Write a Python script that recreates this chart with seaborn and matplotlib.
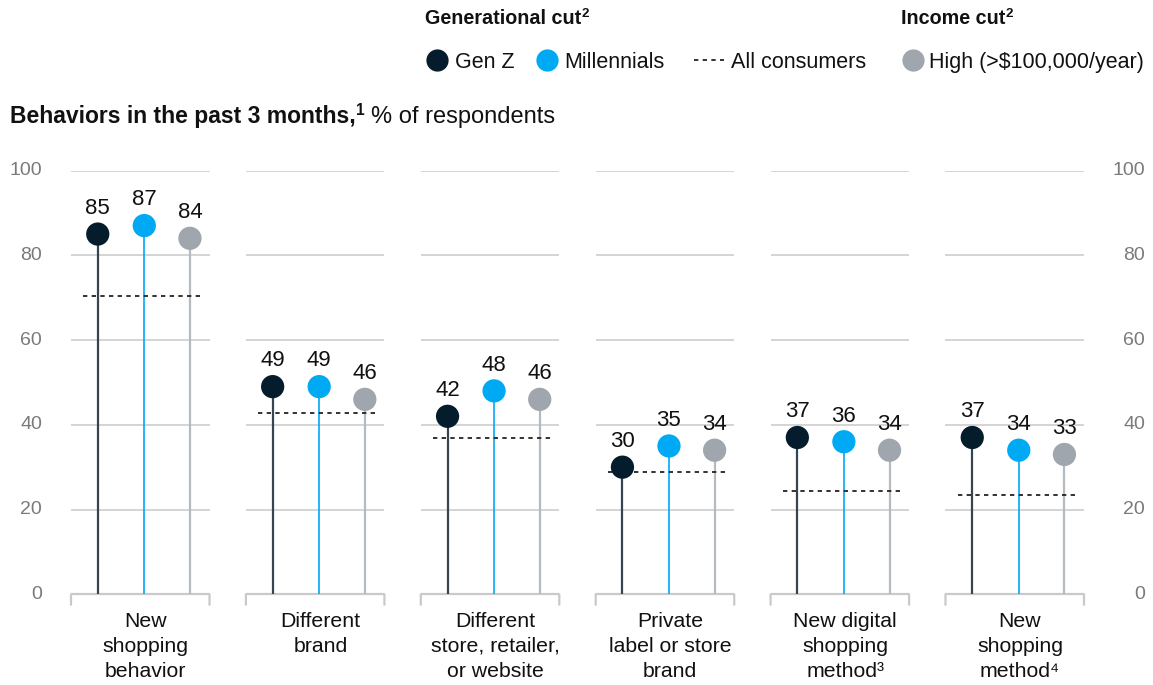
import matplotlib
matplotlib.use("Agg")
import matplotlib.pyplot as plt
import seaborn as sns
import pandas as pd
from matplotlib.lines import Line2D
from matplotlib.transforms import blended_transform_factory

# ---- data -------------------------------------------------------------
categories = [
    "New\nshopping\nbehavior",
    "Different\nbrand",
    "Different\nstore, retailer,\nor website",
    "Private\nlabel or store\nbrand",
    "New digital\nshopping\nmethod\u00b3",
    "New\nshopping\nmethod\u2074",
]
gen_z = [85, 49, 42, 30, 37, 37]
millennials = [87, 49, 48, 35, 36, 34]
high_income = [84, 46, 46, 34, 34, 33]
all_consumers = [70.4, 42.8, 36.8, 28.8, 24.3, 23.4]
y_ticks = [0, 20, 40, 60, 80, 100]
series_names = ["Gen Z", "Millennials", "High (>$100,000/year)"]

# ---- style ------------------------------------------------------------
sns.set_theme(style="white")
FONT = ["Liberation Sans", "DejaVu Sans"]
plt.rcParams["font.family"] = FONT

DOT = {"Gen Z": "#051c2c", "Millennials": "#00a9f4", "High (>$100,000/year)": "#9fa6ad"}
STEM = {"Gen Z": "#36454f", "Millennials": "#00a9f4", "High (>$100,000/year)": "#b4babf"}
OFFSET = {"Gen Z": -0.243, "Millennials": 0.023, "High (>$100,000/year)": 0.284}
HALF = 0.396
GRID = "#c9c9c9"
INK = "#111111"
TICK = "#7a7a7a"

W, H = 1153, 685
fig = plt.figure(figsize=(W / 100, H / 100), dpi=100)


def fx(px):
    return px / W


def fy(py):
    return 1 - py / H


def text_with_sup(xpx, ypx, main, sup, size, weight="normal", tail=None, tail_size=None):
    """Draw text followed by a raised superscript, optionally followed by more text."""
    t = fig.text(fx(xpx), fy(ypx), main, fontsize=size, fontweight=weight,
                 color=INK, ha="left", va="baseline")
    s = plt.annotate(sup, xy=(1, 0), xycoords=t, xytext=(0, size * 0.42),
                     textcoords="offset points", fontsize=size * 0.68,
                     fontweight=weight, color=INK, ha="left", va="bottom")
    if tail:
        plt.annotate(tail, xy=(1, 0), xycoords=(s, t), xytext=(4.5, 0),
                     textcoords="offset points", fontsize=tail_size or size,
                     color=INK, ha="left", va="bottom")
    return t, s


# axes: y=0 at 594 px, y=100 at 170.5 px; groups span 71..1084 px
ax = fig.add_axes([fx(71), fy(594.3), fx(1084) - fx(71), fy(170.5) - fy(594.3)])

# long-form table for seaborn
rows = []
for name, vals in zip(series_names, [gen_z, millennials, high_income]):
    for i, v in enumerate(vals):
        rows.append({"x": i + OFFSET[name], "value": v, "series": name, "group": i})
df = pd.DataFrame(rows)

# per-group grid segments and bracket at zero
for i in range(len(categories)):
    for t in y_ticks[1:]:
        ax.hlines(t, i - HALF, i + HALF, color=GRID, lw=1.1, zorder=0)
    ax.hlines(0, i - HALF, i + HALF, color=GRID, lw=1.6, zorder=1, clip_on=False)
    for edge in (i - HALF, i + HALF):
        ax.annotate("", xy=(edge, 0), xytext=(0, -7.5), textcoords="offset points",
                    arrowprops=dict(arrowstyle="-", color=GRID, lw=1.6,
                                    shrinkA=0, shrinkB=0), annotation_clip=False)

# stems
for name in series_names:
    sub = df[df.series == name]
    ax.vlines(sub.x, 0, sub.value, color=STEM[name],
              lw=1.6 if name != "Millennials" else 1.2, zorder=2)

# all-consumer reference dashes
for i, v in enumerate(all_consumers):
    ax.plot([i - 0.327, i + 0.351], [v, v], color="#222222", lw=1.3,
            dashes=(2.4, 2.4), zorder=2.5)

# dots
sns.scatterplot(data=df, x="x", y="value", hue="series", palette=DOT,
                hue_order=series_names, s=280, linewidth=0, legend=False,
                zorder=3, ax=ax, clip_on=False)
ax.set_xlim(-HALF, len(categories) - 1 + HALF)
ax.set_ylim(0, 100)
ax.axis("off")

# value labels
for _, r in df.iterrows():
    ax.annotate(f"{r.value:g}", xy=(r.x, r.value), xytext=(0, 14.5),
                textcoords="offset points", ha="center", va="baseline",
                fontsize=16, color=INK, annotation_clip=False)

# y tick labels on both sides
tr = blended_transform_factory(fig.transFigure, ax.transData)
for t in y_ticks:
    for xpx in (42, 1145):
        fig.text(fx(xpx), t, str(t), transform=tr, ha="right", va="center",
                 fontsize=14, color=TICK)

# category labels
lab_tr = blended_transform_factory(ax.transData, fig.transFigure)
for i, lab in enumerate(categories):
    ax.text(i + 0.03, fy(612), lab, transform=lab_tr, ha="center", va="top",
            fontsize=15.3, color=INK, linespacing=1.4)

# title
text_with_sup(10, 123, "Behaviors in the past 3 months,", "1", 16.5, weight="bold",
              tail="% of respondents", tail_size=17)

# legend
text_with_sup(425, 24, "Generational cut", "2", 14.2, weight="bold")
text_with_sup(901, 24, "Income cut", "2", 14.2, weight="bold")
ly = fy(60)
for cx, name, tx in [(437, "Gen Z", 455), (547, "Millennials", 564),
                     (913, "High (>$100,000/year)", 929)]:
    fig.add_artist(Line2D([fx(cx)], [ly], marker="o", markersize=16, color=DOT[name],
                          markeredgewidth=0, transform=fig.transFigure))
    fig.text(fx(tx), ly, name, fontsize=15.5, color=INK, ha="left", va="center_baseline")
fig.add_artist(Line2D([fx(694), fx(724)], [ly, ly], color="#222222", lw=1.3,
                      dashes=(2.4, 2.4), transform=fig.transFigure))
fig.text(fx(731), ly, "All consumers", fontsize=15.5, color=INK, ha="left",
         va="center_baseline")

fig.savefig("out.png", dpi=100)
